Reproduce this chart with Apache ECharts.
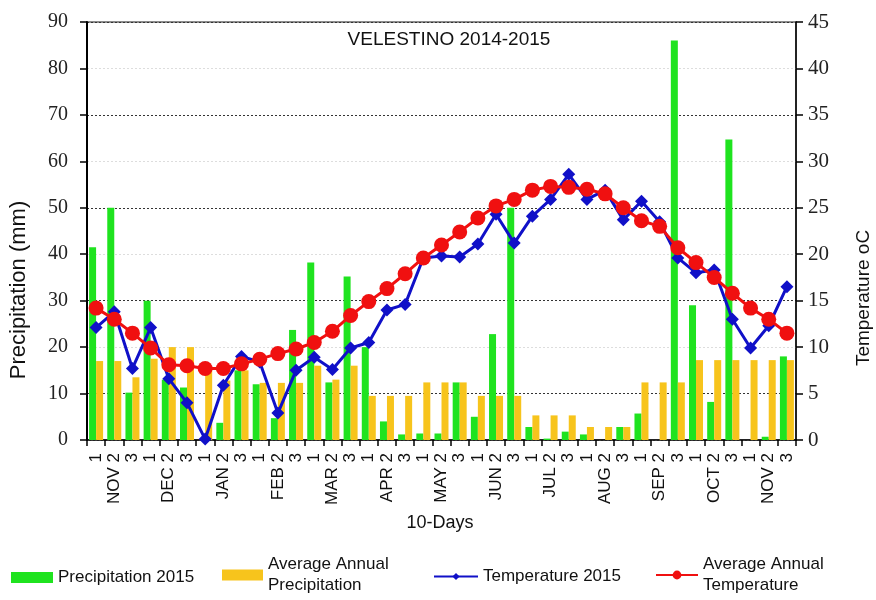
<!DOCTYPE html>
<html>
<head>
<meta charset="utf-8">
<script src="https://cdn.jsdelivr.net/npm/echarts@6/dist/echarts.min.js"></script>
<style>
html,body{margin:0;padding:0;background:#fff;}
#chart{width:876px;height:600px;}
</style>
</head>
<body>
<div id="chart"></div>
<script>
// 10-day periods (Nov 2014 - Nov 2015)
const categories = ['1','NOV 2','3','1','DEC 2','3','1','JAN 2','3','1','FEB 2','3','1','MAR 2','3','1','APR 2','3','1','MAY 2','3','1','JUN 2','3','1','JUL 2','3','1','AUG 2','3','1','SEP 2','3','1','OCT 2','3','1','NOV 2','3'];

// Precipitation 2015 (mm)
const precip2015 = [41.5,50,10.2,30,13,11.3,0,3.7,15,12,4.7,23.7,38.2,12.4,35.2,20,4,1.2,1.4,1.4,12.4,5,22.8,50,2.8,0.3,1.8,1.2,0,2.8,5.7,0,86,29,8.2,64.7,0,0.7,18];

// Average annual precipitation (mm)
const precipAvg = [17,17,13.5,17.5,20,20,15,12.8,15,12.3,12.3,12.3,16,13,16,9.5,9.5,9.5,12.4,12.4,12.4,9.5,9.5,9.5,5.3,5.3,5.3,2.8,2.8,2.8,12.4,12.4,12.4,17.2,17.2,17.2,17.2,17.2,17.2];

// Temperature 2015 (oC)
const temp2015 = [12.1,13.8,7.7,12.1,6.6,4.0,0.1,5.9,9.0,8.4,2.9,7.5,8.9,7.6,9.9,10.5,14.0,14.6,19.6,19.8,19.7,21.1,24.3,21.2,24.1,25.9,28.6,25.9,26.9,23.7,25.7,23.5,19.6,18.0,18.3,13.0,9.9,12.3,16.5];

// Average annual temperature (oC)
const tempAvg = [14.2,13.0,11.5,9.9,8.1,8.0,7.7,7.7,8.2,8.7,9.3,9.8,10.5,11.7,13.4,14.9,16.3,17.9,19.6,21.0,22.4,23.9,25.2,25.9,26.9,27.3,27.2,27.0,26.5,25.0,23.6,23.0,20.7,19.1,17.5,15.8,14.2,13.0,11.5];

const leftTicks = {min:0, max:90, interval:10};
const rightTicks = {min:0, max:45, interval:5};

const names = ['Precipitation 2015','Average Annual Precipitation','Temperature 2015','Average Annual Temperature'];

const SANS = '"Liberation Sans", Arial, sans-serif';
const SERIF = '"Liberation Serif", "Times New Roman", serif';

const chart = echarts.init(document.getElementById('chart'), null, {renderer:'canvas'});

const legendText = {fontFamily: SANS, fontSize: 17, color: '#111', lineHeight: 21};
const legendBase = {orient:'horizontal', padding:0, selectedMode:false, textStyle: legendText,
  formatter: function(n){ return n.replace('Annual ', 'Annual\n'); }};

chart.setOption({
  animation: false,
  backgroundColor: '#fff',
  grid: {left: 87, right: 80, top: 22, bottom: 160, show: true, borderColor: '#666', borderWidth: 1.5},
  legend: [
    Object.assign({}, legendBase, {data:[names[0]], left: 11, top: 567, itemWidth: 42, itemHeight: 11, icon:'rect'}),
    Object.assign({}, legendBase, {data:[names[1]], left: 222, top: 554, itemWidth: 41, itemHeight: 11, icon:'rect'}),
    Object.assign({}, legendBase, {data:[names[2]], left: 433, top: 566, itemWidth: 44, itemHeight: 9}),
    Object.assign({}, legendBase, {data:[names[3]], left: 655, top: 554, itemWidth: 42, itemHeight: 11})
  ],
  graphic: [
    {type:'text', x: 449, y: 40, style:{text:'VELESTINO 2014-2015', fontFamily: SANS, fontSize: 19, fill:'#111', align:'center', verticalAlign:'middle'}},
    {type:'text', x: 19, y: 290, rotation: Math.PI/2, style:{text:'Precipitation (mm)', fontFamily: SANS, fontSize: 22, fill:'#111', align:'center', verticalAlign:'middle'}},
    {type:'text', x: 864, y: 298, rotation: Math.PI/2, style:{text:'Temperature oC', fontFamily: SANS, fontSize: 19, fill:'#111', align:'center', verticalAlign:'middle'}},
    {type:'text', x: 440, y: 523, style:{text:'10-Days', fontFamily: SANS, fontSize: 18, fill:'#111', align:'center', verticalAlign:'middle'}}
  ],
  xAxis: {
    type: 'category',
    data: categories,
    boundaryGap: true,
    axisLine: {show: true, lineStyle: {color: '#000', width: 1.5}},
    axisTick: {show: true, alignWithLabel: false, length: 6, lineStyle: {color:'#000', width: 1.5}},
    axisLabel: {interval: 0, rotate: 90, margin: 13, fontFamily: SANS, fontSize: 17, color: '#111'},
    splitLine: {show: false}
  },
  yAxis: [
    {
      type: 'value', position: 'left',
      min: leftTicks.min, max: leftTicks.max, interval: leftTicks.interval,
      axisLine: {show: true, lineStyle: {color: '#000', width: 2}},
      axisTick: {show: true, length: 7, lineStyle: {color:'#000', width: 1.5}},
      axisLabel: {margin: 19, fontFamily: SERIF, fontSize: 20, color: '#222'},
      splitLine: {show: true, lineStyle: {color: ['#dddddd', '#333333'], type: [2, 2], width: 1}}
    },
    {
      type: 'value', position: 'right',
      min: rightTicks.min, max: rightTicks.max, interval: rightTicks.interval,
      axisLine: {show: true, lineStyle: {color: '#000', width: 1.5}},
      axisTick: {show: true, length: 7, lineStyle: {color:'#000', width: 1.5}},
      axisLabel: {margin: 12, fontFamily: SERIF, fontSize: 21, color: '#222'},
      splitLine: {show: false}
    }
  ],
  series: [
    {name: names[0], type: 'bar', yAxisIndex: 0, data: precip2015, barWidth: 7, barGap: '0%', itemStyle: {color: '#1fe31f'}},
    {name: names[1], type: 'bar', yAxisIndex: 0, data: precipAvg, barWidth: 7, barGap: '0%', itemStyle: {color: '#f7c41c'}},
    {name: names[2], type: 'line', yAxisIndex: 1, data: temp2015, symbol: 'diamond', symbolSize: 13,
      lineStyle: {color: '#1010c8', width: 3}, itemStyle: {color: '#1010c8'}, z: 3},
    {name: names[3], type: 'line', yAxisIndex: 1, data: tempAvg, symbol: 'circle', symbolSize: 15,
      lineStyle: {color: '#f01010', width: 3}, itemStyle: {color: '#f01010'}, z: 4}
  ]
});
</script>
</body>
</html>
